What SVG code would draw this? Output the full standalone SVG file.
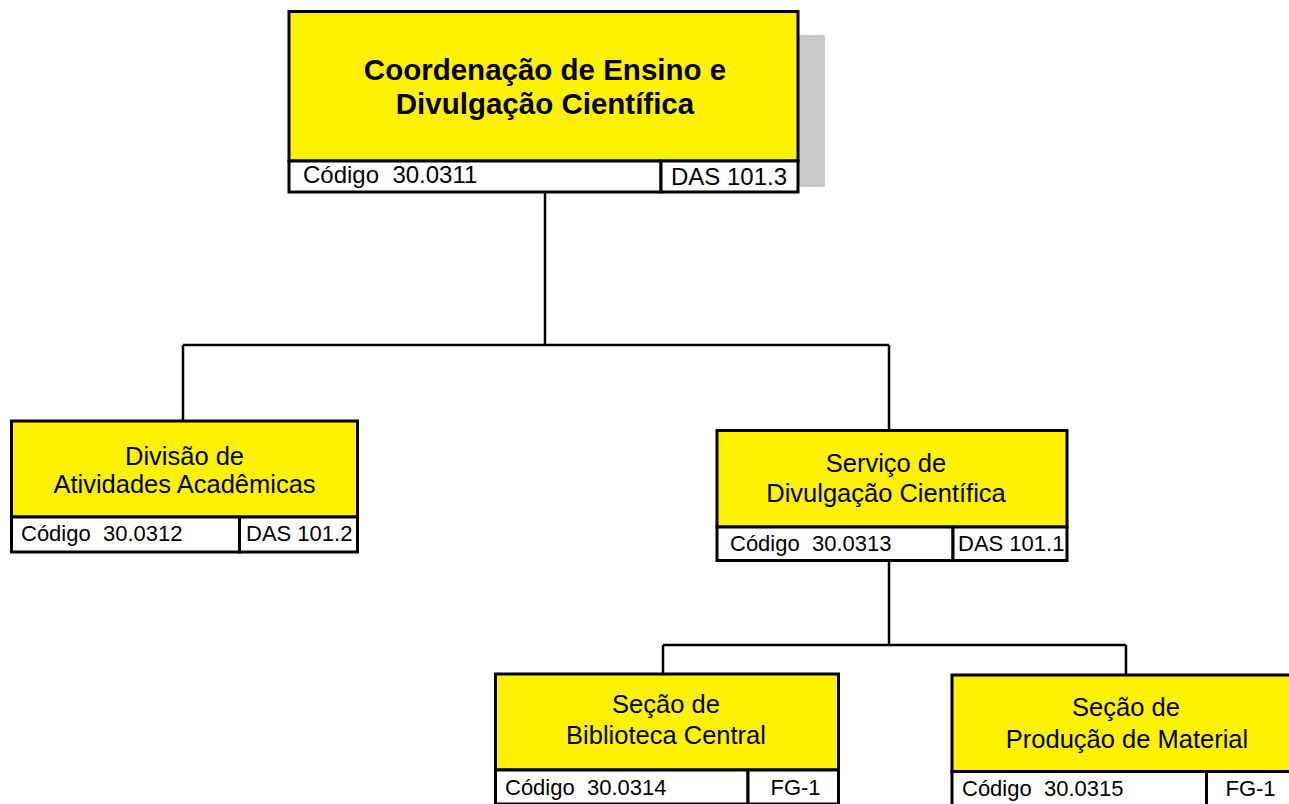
<svg xmlns="http://www.w3.org/2000/svg" width="1289" height="804" viewBox="0 0 1289 804">
<style>
.box{fill:#fff200;stroke:#000;stroke-width:3}
.foot{fill:#fff;stroke:#000;stroke-width:3}
.ln{fill:none;stroke:#000;stroke-width:2.5}
text{font-family:"Liberation Sans",Arial,Helvetica,sans-serif;fill:#000;white-space:pre}
.tb{font-size:29.5px;font-weight:bold;text-anchor:middle}
.t{font-size:25.5px;text-anchor:middle}
.f{font-size:22px}
.ft{font-size:24px}
.c{text-anchor:middle}
</style>
<rect width="1289" height="804" fill="#fff"/>
<g id="connectors">
<path class="ln" d="M545 192V345M183 345H889M183 345V421M889 345V430M889 560V645M663 645H1126M663 645V674M1126 645V675"/>
</g>
<g id="n1">
<rect x="799" y="35" width="26" height="152" rx="2" fill="#c9cacb"/>
<rect class="box" x="289" y="11.5" width="509" height="149.5"/>
<rect class="foot" x="289" y="161" width="372" height="31"/>
<rect class="foot" x="661" y="161" width="137" height="31"/>
<text class="tb" x="545" y="80">Coordenação de Ensino e</text>
<text class="tb" x="545" y="114">Divulgação Científica</text>
<text class="ft" x="303" y="183" xml:space="preserve">Código  30.0311</text>
<text class="ft" x="671" y="185">DAS 101.3</text>
</g>
<g id="n2">
<rect class="box" x="11.5" y="421" width="346" height="96"/>
<rect class="foot" x="11.5" y="517" width="228" height="35"/>
<rect class="foot" x="239.5" y="517" width="118" height="35"/>
<text class="t" x="184.5" y="465">Divisão de</text>
<text class="t" x="184.5" y="493">Atividades Acadêmicas</text>
<text class="f" x="21" y="541" xml:space="preserve">Código  30.0312</text>
<text class="f" x="246" y="541">DAS 101.2</text>
</g>
<g id="n3">
<rect class="box" x="717" y="430.5" width="350" height="96.5"/>
<rect class="foot" x="717" y="527" width="236" height="33.5"/>
<rect class="foot" x="953" y="527" width="114" height="33.5"/>
<text class="t" x="886" y="472">Serviço de</text>
<text class="t" x="886" y="502">Divulgação Científica</text>
<text class="f" x="730" y="551" xml:space="preserve">Código  30.0313</text>
<text class="f" x="958" y="551">DAS 101.1</text>
</g>
<g id="n4">
<rect class="box" x="495.5" y="674" width="343" height="96"/>
<rect class="foot" x="495.5" y="770" width="252.5" height="34"/>
<rect class="foot" x="748" y="770" width="90.5" height="34"/>
<text class="t" x="666" y="713">Seção de</text>
<text class="t" x="666" y="744">Biblioteca Central</text>
<text class="f" x="505" y="795" xml:space="preserve">Código  30.0314</text>
<text class="f c" x="795.5" y="795">FG-1</text>
</g>
<g id="n5">
<rect class="box" x="952" y="675" width="345" height="96.5"/>
<rect class="foot" x="952" y="771.5" width="254.5" height="34"/>
<rect class="foot" x="1206.5" y="771.5" width="90.5" height="34"/>
<text class="t" x="1126" y="716">Seção de</text>
<text class="t" x="1127" y="748">Produção de Material</text>
<text class="f" x="962" y="796" xml:space="preserve">Código  30.0315</text>
<text class="f c" x="1250.5" y="796">FG-1</text>
</g>
</svg>
